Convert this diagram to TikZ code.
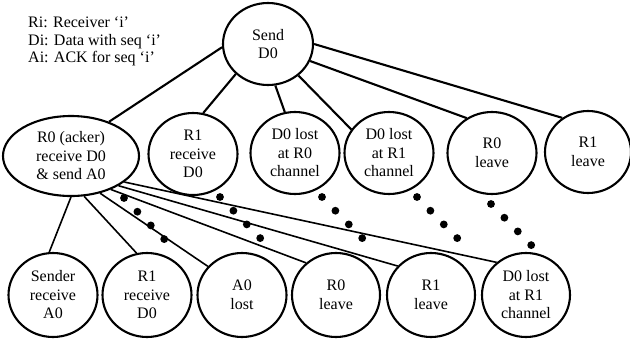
\documentclass[tikz,border=0pt]{standalone}
\usepackage{fontspec}
\setmainfont{Liberation Serif}
\usetikzlibrary{shapes.geometric}
\begin{document}
\begin{tikzpicture}[x=1pt,y=-1pt,
  state/.style={ellipse,draw,line width=2.1pt,inner sep=0pt,
    minimum width=#1,minimum height=82pt,align=center,
    font=\fontsize{16}{18.5}\selectfont},
  state/.default=89pt,
  upper/.style={line width=2.1pt},
  lower/.style={line width=1.6pt},
  dot/.style={fill=black}]
\useasboundingbox (0,0) rectangle (630,343);

% legend
\node[anchor=west,align=left,inner sep=0pt,font=\fontsize{16}{17.5}\selectfont]
  (legend) at (28,41.5) {Ri: Receiver ‘i’\\Di: Data with seq ‘i’\\Ai: ACK for seq ‘i’};

% root
\node[state=90pt,minimum height=82pt] (send) at (268,44) {Send\\D0};

% first level
\node[state=136pt,minimum height=80pt] (acker) at (71,156) {R0 (acker)\\receive D0\\\& send A0};
\node[state] (r1rx)  at (193,154) {R1\\receive\\D0};
\node[state] (lost0) at (295,153) {D0 lost\\at R0\\channel};
\node[state] (lost1) at (389,153) {D0 lost\\at R1\\channel};
\node[state] (r0lv)  at (492,153) {R0\\leave};
\node[state=86pt] (r1lv) at (588,152) {R1\\leave};

% second level, below the acker
\node[state=89pt,minimum height=84pt] (snd)   at (53,295)  {Sender\\receive\\A0};
\node[state=89pt,minimum height=84pt] (r1rxb) at (147,295) {R1\\receive\\D0};
\node[state=89pt,minimum height=84pt] (a0l)   at (242,295) {A0\\lost};
\node[state=88pt,minimum height=84pt] (r0lvb) at (336,295) {R0\\leave};
\node[state=88pt,minimum height=84pt] (r1lvb) at (431,295) {R1\\leave};
\node[state=88pt,minimum height=84pt] (lostb) at (526,295) {D0 lost\\at R1\\channel};

% edges from the root
\draw[upper] (send.184) -- (acker.42);
\draw[upper] (send.-137) -- (r1rx.76);
\draw[upper] (send.-80) -- (lost0.104);
\draw[upper] (send.-46) -- (lost1.148);
\draw[upper] (send.-22) -- (r0lv.126);
\draw[upper] (send.0) -- (r1lv.127);

% edges from the acker
\draw[lower] (acker.-90) -- (snd.95);
\draw[lower] (acker.-72) -- (r1rxb.104);
\draw[lower] (acker.-52) -- (a0l.140);
\draw[lower] (acker.-40) -- (r0lvb.133);
\draw[lower] (acker.-32) -- (r1lvb.139);
\draw[lower] (acker.-26) -- (lostb.132);

% elided subtrees
\foreach \x/\y in {124/198,220/197,322/197,417/197,491/204}
  \foreach \k in {0,1,2,3}
    \fill[dot] (\x+13.4*\k,\y+13.7*\k) circle (3.9pt);
\end{tikzpicture}
\end{document}
